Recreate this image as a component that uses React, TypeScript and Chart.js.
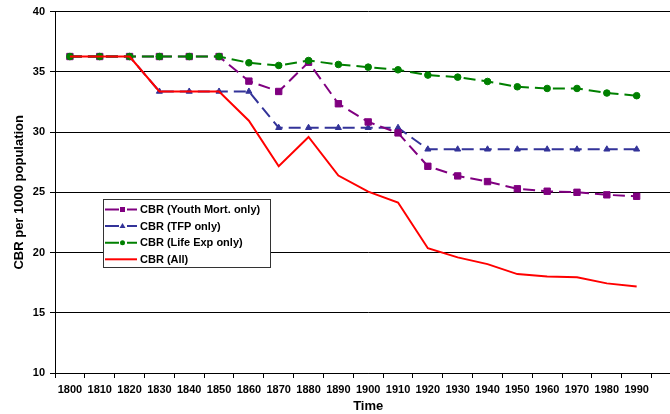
import React, { useEffect, useRef } from "react";
import { Chart, registerables } from "chart.js";

Chart.register(...registerables);

const years = ["1800", "1810", "1820", "1830", "1840", "1850", "1860", "1870", "1880", "1890", "1900", "1910", "1920", "1930", "1940", "1950", "1960", "1970", "1980", "1990"];
const youthMort = [36.27, 36.27, 36.27, 36.27, 36.27, 36.27, 34.23, 33.37, 35.8, 32.35, 30.84, 29.93, 27.16, 26.36, 25.89, 25.29, 25.09, 25.0, 24.79, 24.67];
const tfpOnly = [36.27, 36.27, 36.27, 33.37, 33.37, 33.37, 33.37, 30.36, 30.36, 30.36, 30.36, 30.36, 28.57, 28.57, 28.57, 28.57, 28.57, 28.57, 28.57, 28.57];
const lifeExp = [36.27, 36.27, 36.27, 36.27, 36.27, 36.27, 35.75, 35.53, 35.94, 35.61, 35.39, 35.17, 34.73, 34.56, 34.2, 33.76, 33.62, 33.62, 33.24, 33.02];
const allFactors = [36.27, 36.27, 36.27, 33.37, 33.37, 33.37, 30.94, 27.16, 29.59, 26.39, 25.06, 24.15, 20.36, 19.6, 19.04, 18.21, 18.02, 17.94, 17.44, 17.19];
const seriesNames = ["CBR (Youth Mort. only)", "CBR (TFP only)", "CBR (Life Exp only)", "CBR (All)"];

const FONT = "'Liberation Sans', Arial, sans-serif";
const PURPLE = "#800080";
const BLUE = "#333399";
const GREEN = "#008000";
const RED = "#FF0000";

const legendPlugin = {
  id: "boxLegend",
  afterDraw(chart: any) {
    const ctx = chart.ctx;
    ctx.save();
    const x0 = 103.5, y0 = 199.5, w = 167, h = 68;
    ctx.fillStyle = "#fff";
    ctx.fillRect(x0, y0, w, h);
    ctx.strokeStyle = "#333";
    ctx.lineWidth = 1;
    ctx.setLineDash([]);
    ctx.strokeRect(x0, y0, w, h);
    const rows = [
      { c: PURPLE, m: "rect" },
      { c: BLUE, m: "tri" },
      { c: GREEN, m: "circ" },
      { c: RED, m: "" },
    ];
    rows.forEach((r, i) => {
      const y = 209.5 + i * 16.6;
      ctx.strokeStyle = r.c;
      ctx.fillStyle = r.c;
      ctx.lineWidth = 2;
      ctx.beginPath();
      if (r.m) {
        ctx.moveTo(105, y);
        ctx.lineTo(119, y);
        ctx.moveTo(127, y);
        ctx.lineTo(137, y);
      } else {
        ctx.moveTo(105, y);
        ctx.lineTo(137, y);
      }
      ctx.stroke();
      if (r.m === "rect") {
        ctx.fillRect(120, y - 2.5, 5, 5);
      } else if (r.m === "tri") {
        ctx.beginPath();
        ctx.moveTo(122.5, y - 3);
        ctx.lineTo(125.5, y + 2);
        ctx.lineTo(119.5, y + 2);
        ctx.closePath();
        ctx.fill();
      } else if (r.m === "circ") {
        ctx.beginPath();
        ctx.arc(122.5, y, 2.5, 0, Math.PI * 2);
        ctx.fill();
      }
      ctx.fillStyle = "#000";
      ctx.font = `bold 11px ${FONT}`;
      ctx.textBaseline = "middle";
      ctx.textAlign = "left";
      ctx.fillText(seriesNames[i], 140, y + 0.5);
    });
    ctx.restore();
  },
};

export default function App() {
  const ref = useRef<HTMLCanvasElement>(null);
  useEffect(() => {
    if (!ref.current) return;
    const dash = [12, 6];
    const chart = new Chart(ref.current, {
      type: "line",
      data: {
        labels: [...years, ""],
        datasets: [
          {
            label: seriesNames[0],
            data: youthMort,
            borderColor: PURPLE,
            backgroundColor: PURPLE,
            borderWidth: 2,
            borderDash: dash,
            pointStyle: "rect",
            pointRadius: 4.5,
            pointBorderWidth: 1,
            order: 2,
          },
          {
            label: seriesNames[1],
            data: tfpOnly,
            borderColor: BLUE,
            backgroundColor: BLUE,
            borderWidth: 2,
            borderDash: dash,
            pointStyle: "triangle",
            pointRadius: 3.5,
            pointBorderWidth: 1,
            order: 3,
          },
          {
            label: seriesNames[2],
            data: lifeExp,
            borderColor: GREEN,
            backgroundColor: GREEN,
            borderWidth: 2,
            borderDash: dash,
            pointStyle: "circle",
            pointRadius: 3.3,
            pointBorderWidth: 1,
            order: 1,
          },
          {
            label: seriesNames[3],
            data: allFactors,
            borderColor: RED,
            backgroundColor: RED,
            borderWidth: 2,
            pointRadius: 0,
            order: 0,
          },
        ],
      },
      options: {
        responsive: false,
        animation: false,
        devicePixelRatio: 1,
        layout: { padding: { top: 10.7, right: 18.6, bottom: 0, left: 0 } },
        plugins: { legend: { display: false }, tooltip: { enabled: false } },
        elements: { line: { tension: 0 } },
        scales: {
          x: {
            type: "category",
            offset: true,
            grid: { display: true, drawOnChartArea: false, offset: true, tickLength: 5, color: "#000" },
            border: { display: true, color: "#000" },
            ticks: {
              autoSkip: false,
              maxRotation: 0,
              padding: 5,
              color: "#000",
              font: { family: FONT, size: 11, weight: "bold" },
            },
            title: {
              display: true,
              text: "Time",
              color: "#000",
              font: { family: FONT, size: 13, weight: "bold" },
              padding: { top: 0, bottom: 0 },
            },
            afterFit(scale: any) {
              scale.height = 41;
            },
          },
          y: {
            min: 10,
            max: 40,
            ticks: {
              stepSize: 5,
              padding: 5,
              color: "#000",
              font: { family: FONT, size: 11, weight: "bold" },
            },
            grid: { color: "#000", tickLength: 5, lineWidth: 1 },
            border: { display: true, color: "#000" },
            title: {
              display: true,
              text: "CBR per 1000 population",
              color: "#000",
              font: { family: FONT, size: 13, weight: "bold" },
              padding: { top: 12, bottom: 0 },
            },
            afterFit(scale: any) {
              scale.width = 55;
            },
          },
        },
      },
      plugins: [legendPlugin],
    } as any);
    return () => chart.destroy();
  }, []);
  return (
    <div style={{ position: "fixed", left: 0, top: 0, width: 670, height: 414, overflow: "hidden", background: "#fff" }}>
      <canvas ref={ref} width={700} height={414} style={{ display: "block", width: 700, height: 414 }} />
    </div>
  );
}
